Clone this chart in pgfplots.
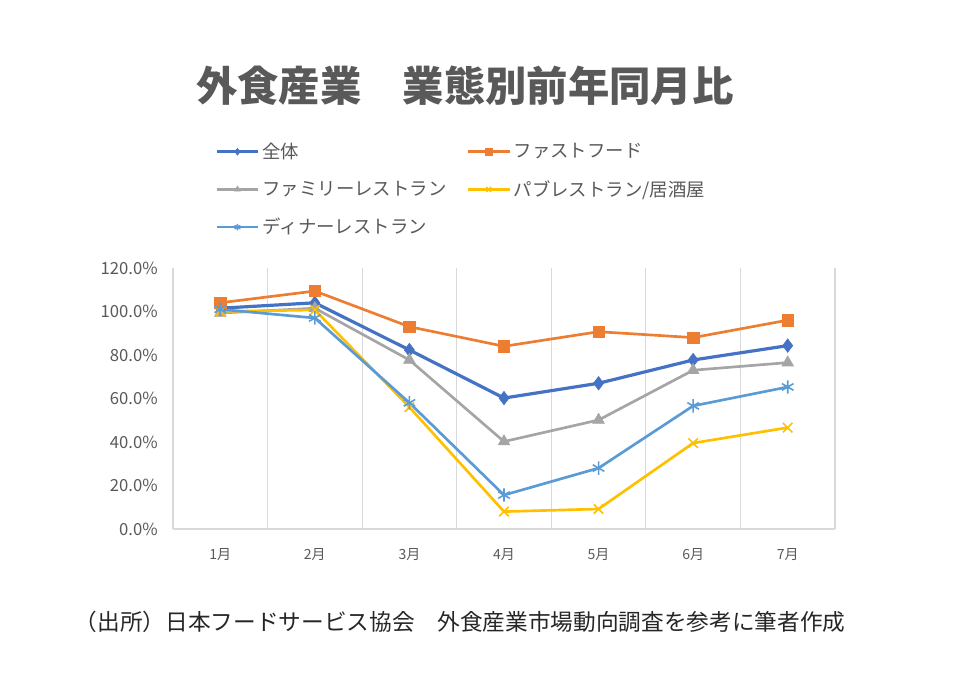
\documentclass[border=0pt]{standalone}
\usepackage{fontspec}
\setmainfont{Noto Sans CJK JP}
\usepackage{pgfplots}
\pgfplotsset{compat=1.18}
\definecolor{cblue}{HTML}{4472C4}
\definecolor{corange}{HTML}{ED7D31}
\definecolor{cgray}{HTML}{A5A5A5}
\definecolor{cyellow}{HTML}{FFC000}
\definecolor{clblue}{HTML}{5B9BD5}
\definecolor{ctext}{HTML}{595959}
\definecolor{cgrid}{HTML}{D9D9D9}
\begin{document}
\begin{tikzpicture}
\path[use as bounding box] (0pt,0pt) rectangle (720pt,516pt);
\node[text=ctext, font=\fontsize{31}{36}\selectfont\bfseries] at (348.5pt,452pt) {外食産業　業態別前年同月比};
\node[text=black!85, font=\fontsize{17}{20}\selectfont] at (345pt,49.5pt) {（出所）日本フードサービス協会　外食産業市場動向調査を参考に筆者作成};
\begin{axis}[
  at={(129.75pt,119.25pt)}, anchor=south west,
  scale only axis, width=496.5pt, height=195.75pt,
  xmin=0.5, xmax=7.5, ymin=0, ymax=120,
  xtick={1,2,3,4,5,6,7},
  xticklabels={1月,2月,3月,4月,5月,6月,7月},
  ytick={0,20,40,60,80,100,120},
  yticklabel={\pgfmathprintnumber[fixed,fixed zerofill,precision=1]{\tick}\%},
  /pgf/number format/assume math mode=true,
  tick label style={text=ctext, font=\fontsize{12.5}{14}\selectfont},
  xticklabel style={font=\fontsize{10.5}{12}\selectfont, yshift=-11pt},
  yticklabel style={xshift=-8pt},
  major tick length=0pt, minor tick length=0pt,
  minor xtick={1.5,2.5,3.5,4.5,5.5,6.5,7.5},
  xminorgrids=true,
  minor grid style={cgrid, line width=0.8pt},
  axis x line*=bottom, axis y line*=left,
  axis line style={draw=cgrid, line width=0.8pt, -},
  clip=false,
  legend columns=2,
  legend cell align=left,
  legend style={at={(0.063,1.49)}, anchor=north west, draw=none, fill=none,
    font=\fontsize{13.8}{16}\selectfont, text=ctext, row sep=11pt,
    /tikz/every even column/.append style={column sep=13pt},
    inner sep=0pt},
  legend image code/.code={\draw[mark repeat=2,mark phase=2] plot coordinates {(0cm,0cm) (0.55cm,0cm) (1.1cm,0cm)};},
  legend image post style={mark size=2.5pt},
]
\addplot[cblue, line width=2.4pt, mark=diamond*, mark size=5pt, mark options={fill=cblue, line width=0.5pt}]
  coordinates {(1,101.5) (2,104) (3,82.3) (4,60.2) (5,67) (6,77.7) (7,84.3)};
\addlegendentry{全体}
\addplot[corange, line width=2pt, mark=square*, mark size=4.3pt, mark options={fill=corange, line width=0.5pt}]
  coordinates {(1,104) (2,109.4) (3,93) (4,84) (5,90.7) (6,88) (7,96)};
\addlegendentry{ファストフード}
\addplot[cgray, line width=2pt, mark=triangle*, mark size=5pt, mark options={fill=cgray, line width=0.5pt}]
  coordinates {(1,99.3) (2,101.5) (3,77.7) (4,40.2) (5,50.1) (6,73) (7,76.5)};
\addlegendentry{ファミリーレストラン}
\addplot[cyellow, line width=2pt, mark=x, mark size=5pt, mark options={line width=1.2pt}]
  coordinates {(1,100) (2,100.7) (3,56) (4,8) (5,9.2) (6,39.5) (7,46.6)};
\addlegendentry{パブレストラン/居酒屋}
\addplot[clblue, line width=2pt, mark=asterisk, mark size=5pt, mark options={line width=1.2pt}]
  coordinates {(1,101) (2,97) (3,58) (4,15.6) (5,28) (6,56.6) (7,65.3)};
\addlegendentry{ディナーレストラン}
\end{axis}
\end{tikzpicture}
\end{document}
